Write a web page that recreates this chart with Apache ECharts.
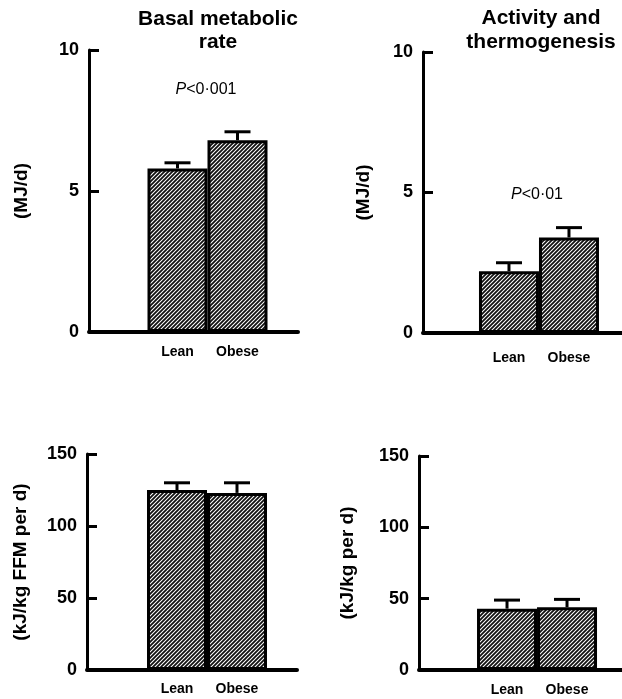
<!DOCTYPE html>
<html>
<head>
<meta charset="utf-8">
<script src="https://cdn.jsdelivr.net/npm/echarts@6/dist/echarts.min.js"></script>
<style>
html,body{margin:0;padding:0;background:#fff;}
#c{width:622px;height:699px;}
</style>
</head>
<body>
<div id="c"></div>
<script>
// ---- data ----
const categories = ['Lean', 'Obese'];
const bmrMJ = [5.8, 6.8];
const bmrMJErr = [0.2, 0.3];
const actMJ = [2.2, 3.4];
const actMJErr = [0.3, 0.35];
const bmrKJ = [125, 123];
const bmrKJErr = [5, 7];
const actKJ = [43, 44];
const actKJErr = [6, 5.5];
const topAxis = { min: 0, max: 10, interval: 5 };
const bottomAxis = { min: 0, max: 150, interval: 50 };
const titles = ['Basal metabolic\nrate', 'Activity and\nthermogenesis'];
const yNames = ['(MJ/d)', '(MJ/d)', '(kJ/kg FFM per d)', '(kJ/kg per d)'];
const pTexts = ['<0·001', '<0·01'];

// ---- layout ----
const FONT = 'Liberation Sans';
const UNIT = 60;
const panels = [
  { left: 89,  top: 50,  width: 209, height: 282, xOff: 1.475, vals: bmrMJ, errs: bmrMJErr, ax: topAxis,    nameGap: 58, lblDist: 13 },
  { left: 423, top: 52,  width: 199, height: 281, xOff: 1.433, vals: actMJ, errs: actMJErr, ax: topAxis,    nameGap: 50, lblDist: 18 },
  { left: 87,  top: 454, width: 210, height: 216, xOff: 1.5,   vals: bmrKJ, errs: bmrKJErr, ax: bottomAxis, nameGap: 57, lblDist: 12 },
  { left: 419, top: 456, width: 203, height: 214, xOff: 1.467, vals: actKJ, errs: actKJErr, ax: bottomAxis, nameGap: 62, lblDist: 13 }
];

function hatchCanvas() {
  const c = document.createElement('canvas');
  c.width = 4; c.height = 4;
  const g = c.getContext('2d');
  g.fillStyle = '#fff'; g.fillRect(0, 0, 4, 4);
  g.strokeStyle = '#111'; g.lineWidth = 1.8;
  g.beginPath();
  g.moveTo(-1, 5); g.lineTo(5, -1);
  g.moveTo(-1, 1); g.lineTo(1, -1);
  g.moveTo(3, 5); g.lineTo(5, 3);
  g.stroke();
  return c;
}
const hatch = { image: hatchCanvas(), repeat: 'repeat' };

const grid = [], xAxis = [], yAxis = [], series = [];
panels.forEach((p, k) => {
  grid.push({ left: p.left, top: p.top, width: p.width, height: p.height, containLabel: false });
  xAxis.push({
    gridIndex: k, type: 'value', min: 0, max: p.width / UNIT,
    axisLine: { show: true, onZero: false, lineStyle: { color: '#000', width: 4 } },
    axisTick: { show: false }, axisLabel: { show: false }, splitLine: { show: false }
  });
  yAxis.push({
    gridIndex: k, type: 'value', min: p.ax.min, max: p.ax.max, interval: p.ax.interval,
    name: yNames[k], nameLocation: 'middle', nameGap: p.nameGap,
    nameTextStyle: { fontFamily: FONT, fontSize: 19, fontWeight: 'bold', color: '#000' },
    axisLine: { show: true, lineStyle: { color: '#000', width: 3 } },
    axisTick: { show: true, inside: true, length: 10, lineStyle: { color: '#000', width: 3 } },
    axisLabel: { fontFamily: FONT, fontSize: 18, fontWeight: 'bold', color: '#000', margin: 10 },
    splitLine: { show: false }
  });
  const barData = p.vals.map((v, i) => ({ value: [i + p.xOff, v], name: categories[i] }));
  series.push({
    type: 'bar', xAxisIndex: k, yAxisIndex: k, barWidth: UNIT,
    data: barData,
    itemStyle: { color: hatch, borderColor: '#000', borderWidth: 3 },
    label: {
      show: true, position: 'bottom', distance: p.lblDist,
      formatter: (d) => d.name,
      fontFamily: FONT, fontSize: 14, fontWeight: 'bold', color: '#000'
    },
    silent: true
  });
  series.push({
    type: 'custom', xAxisIndex: k, yAxisIndex: k,
    data: p.vals.map((v, i) => [i + p.xOff, v, p.errs[i]]),
    renderItem: (params, api) => {
      const x = api.value(0), y = api.value(1), e = api.value(2);
      const p0 = api.coord([x, y]);
      const p1 = api.coord([x, y + e]);
      const st = { stroke: '#000', lineWidth: 3 };
      return {
        type: 'group', children: [
          { type: 'line', shape: { x1: p0[0], y1: p0[1], x2: p1[0], y2: p1[1] }, style: st },
          { type: 'line', shape: { x1: p1[0] - 13, y1: p1[1], x2: p1[0] + 13, y2: p1[1] }, style: st }
        ]
      };
    },
    z: 5, silent: true
  });
});

const graphic = [
  { type: 'text', x: 218, y: 8, style: { text: titles[0], textAlign: 'center', textVerticalAlign: 'top', fontFamily: FONT, fontSize: 21, fontWeight: 'bold', lineHeight: 23, fill: '#000' } },
  { type: 'text', x: 541, y: 6, style: { text: titles[1], textAlign: 'center', textVerticalAlign: 'top', fontFamily: FONT, fontSize: 21, fontWeight: 'bold', lineHeight: 24, fill: '#000' } },
  { type: 'text', x: 206, y: 90, style: { text: '{i|P}' + pTexts[0], textAlign: 'center', textVerticalAlign: 'middle', fontFamily: FONT, fontSize: 16, fill: '#000', rich: { i: { fontStyle: 'italic', fontFamily: FONT, fontSize: 16 } } } },
  { type: 'text', x: 537, y: 195, style: { text: '{i|P}' + pTexts[1], textAlign: 'center', textVerticalAlign: 'middle', fontFamily: FONT, fontSize: 16, fill: '#000', rich: { i: { fontStyle: 'italic', fontFamily: FONT, fontSize: 16 } } } }
];

const chart = echarts.init(document.getElementById('c'), null, { renderer: 'canvas' });
chart.setOption({ animation: false, backgroundColor: '#fff', grid, xAxis, yAxis, series, graphic });
</script>
</body>
</html>
